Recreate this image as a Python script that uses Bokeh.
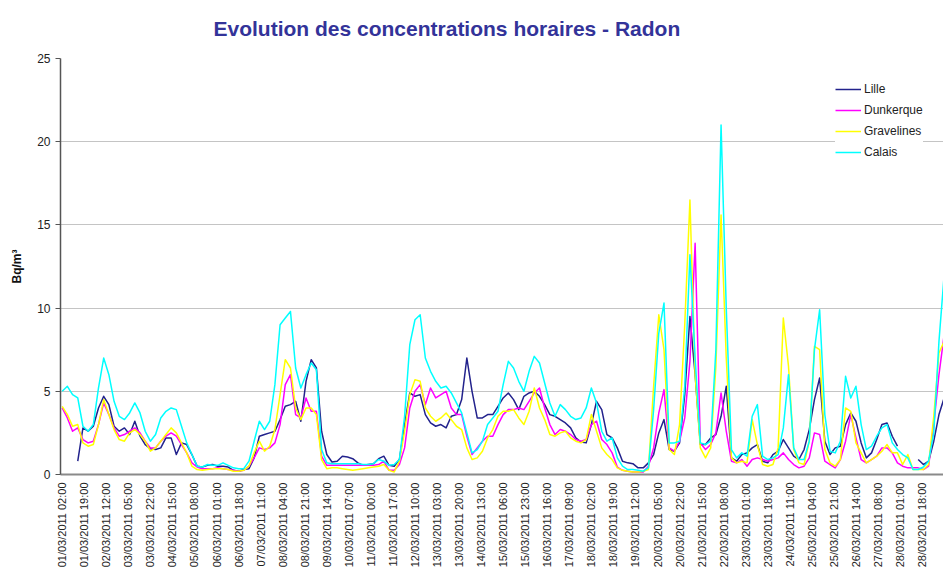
import math
import numpy as np
from bokeh.plotting import figure
from bokeh.models import FixedTicker, Legend, LegendItem, Range1d
from bokeh.embed import file_html
from bokeh.resources import INLINE

nan = float("nan")

# hourly index (hours since 01/03/2011 02:00), sampled every 4 hours
hours = list(range(0, 681, 4))

chart_title = "Evolution des concentrations horaires - Radon"
y_label = "Bq/m³"

tick_step = 17
tick_labels = [
    "01/03/2011 02:00", "01/03/2011 19:00", "02/03/2011 12:00", "03/03/2011 05:00",
    "03/03/2011 22:00", "04/03/2011 15:00", "05/03/2011 08:00", "06/03/2011 01:00",
    "06/03/2011 18:00", "07/03/2011 11:00", "08/03/2011 04:00", "08/03/2011 21:00",
    "09/03/2011 14:00", "10/03/2011 07:00", "11/03/2011 00:00", "11/03/2011 17:00",
    "12/03/2011 10:00", "13/03/2011 03:00", "13/03/2011 20:00", "14/03/2011 13:00",
    "15/03/2011 06:00", "15/03/2011 23:00", "16/03/2011 16:00", "17/03/2011 09:00",
    "18/03/2011 02:00", "18/03/2011 19:00", "19/03/2011 12:00", "20/03/2011 05:00",
    "20/03/2011 22:00", "21/03/2011 15:00", "22/03/2011 08:00", "23/03/2011 01:00",
    "23/03/2011 18:00", "24/03/2011 11:00", "25/03/2011 04:00", "25/03/2011 21:00",
    "26/03/2011 14:00", "27/03/2011 08:00", "28/03/2011 01:00", "28/03/2011 18:00",
    "29/03/2011 11:00",
]

lille = [
    nan, nan, nan, 0.8, 2.8, 2.6, 2.9, 4.0, 4.7, 4.2,
    2.9, 2.6, 2.8, 2.4, 3.2, 2.3, 1.8, 1.55, 1.5, 1.6,
    2.2, 2.2, 1.2, 1.9, 1.8, 1.2, 0.5, 0.45, 0.55, 0.6,
    0.5, 0.5, 0.45, 0.25, 0.2, 0.3, 0.35, 1.0, 2.3, 2.4,
    2.5, 2.6, 3.3, 4.1, 4.2, 4.4, 3.2, 5.6, 6.9, 6.4,
    2.6, 1.2, 0.75, 0.8, 1.1, 1.05, 0.95, 0.7, 0.55, 0.6,
    0.65, 0.95, 1.1, 0.55, 0.5, 0.9, 3.0, 4.9, 4.7, 4.8,
    3.6, 3.1, 2.9, 3.0, 2.8, 3.5, 3.6, 4.5, 7.0, 5.0,
    3.4, 3.4, 3.6, 3.6, 4.1, 4.6, 4.9, 4.5, 3.9, 4.7,
    4.9, 5.0, 4.7, 4.2, 3.6, 3.5, 3.3, 3.1, 2.8, 2.2,
    1.95, 1.9, 3.0, 4.4, 3.9, 2.4, 2.2, 1.6, 0.8, 0.7,
    0.65, 0.4, 0.4, 0.7, 1.2, 2.5, 3.3, 1.5, 1.4, 1.9,
    4.8, 9.5, 6.0, 1.8, 1.8, 2.2, 2.4, 3.5, 5.3, 1.0,
    0.8, 1.2, 1.3, 1.6, 1.8, 0.8, 0.7, 1.2, 1.4, 2.1,
    1.6, 1.1, 0.9, 1.5, 2.7, 4.5, 5.8, 2.0, 1.2, 1.6,
    1.7, 3.0, 3.7, 3.2, 1.9, 1.0, 1.3, 2.1, 3.0, 3.1,
    2.3, 1.7, nan, nan, nan, 0.9, 0.6, 0.8, 2.0, 3.6,
    4.6,
]

dunkerque = [
    4.0, 3.4, 2.6, 2.8, 2.1, 1.9, 2.0, 3.0, 4.3, 3.6,
    2.8, 2.3, 2.4, 2.6, 2.8, 2.5, 2.0, 1.6, 1.6, 2.0,
    2.3, 2.5, 2.3, 1.8, 1.3, 0.7, 0.45, 0.35, 0.35, 0.35,
    0.4, 0.35, 0.3, 0.25, 0.2, 0.25, 0.5, 1.0, 1.6, 1.5,
    1.6, 1.9, 3.0, 5.4, 6.0, 3.6, 3.4, 4.6, 3.8, 3.8,
    1.1, 0.55, 0.55, 0.55, 0.55, 0.55, 0.55, 0.55, 0.55, 0.55,
    0.55, 0.6, 0.8, 0.25, 0.25, 0.6, 1.6, 4.0, 5.0, 5.4,
    4.2, 5.2, 4.6, 4.8, 5.0, 4.0, 3.6, 3.6, 2.3, 1.2,
    1.6, 2.0, 2.3, 2.3, 3.0, 3.6, 3.9, 3.9, 4.0, 3.9,
    4.4, 4.9, 5.2, 4.0, 3.0, 2.4, 2.7, 2.6, 2.4, 2.1,
    2.0, 2.1, 3.0, 3.2, 2.1, 1.8, 1.3, 0.45, 0.25, 0.2,
    0.15, 0.15, 0.15, 0.5, 1.6, 3.7, 5.1, 1.6, 1.4, 2.0,
    3.4, 6.8, 13.9, 1.9, 1.5, 1.8, 2.5, 4.9, 2.6, 0.8,
    0.7, 0.9, 0.5, 0.9, 1.0, 0.9, 0.8, 0.9, 1.0, 1.3,
    0.9, 0.6, 0.4, 0.5, 1.0, 2.5, 2.4, 0.8, 0.6, 0.4,
    0.9, 2.0, 3.6, 2.2, 0.9, 0.7, 0.9, 1.1, 1.6, 1.6,
    1.3, 0.7, 0.5, 0.4, 0.4, 0.4, 0.3, 0.5, 3.0, 6.0,
    8.4,
]

gravelines = [
    4.1, 3.6, 2.9, 3.0, 1.9, 1.7, 1.8, 3.0, 4.5, 3.6,
    2.7, 2.1, 2.0, 2.5, 2.7, 2.4, 2.0, 1.4, 1.6, 2.0,
    2.4, 2.8, 2.5, 1.9, 1.3, 0.5, 0.3, 0.25, 0.3, 0.35,
    0.35, 0.35, 0.3, 0.2, 0.2, 0.25, 0.5, 1.3, 2.0, 1.4,
    1.7, 2.7, 4.8, 6.9, 6.4, 4.0, 3.3, 4.0, 4.0, 3.6,
    0.9, 0.35, 0.4, 0.4, 0.35, 0.3, 0.25, 0.3, 0.35, 0.4,
    0.45, 0.5, 0.6, 0.25, 0.15, 0.8, 2.6, 4.8, 5.7, 5.6,
    4.0, 3.5, 3.2, 3.4, 3.7, 3.3, 2.9, 2.7, 1.6, 0.9,
    1.0, 1.4, 2.2, 2.7, 3.5, 3.8, 3.8, 3.9, 3.4, 3.0,
    3.8, 5.2, 4.0, 3.3, 2.4, 2.3, 2.5, 2.6, 2.2, 2.0,
    1.9, 2.1, 3.6, 2.6, 1.6, 1.2, 0.9, 0.4, 0.25, 0.2,
    0.15, 0.15, 0.2, 0.3, 5.3, 9.6, 7.5, 1.5, 1.2, 3.0,
    9.0, 16.5, 6.0, 1.6, 1.0, 1.6, 6.5, 15.6, 7.0, 1.0,
    0.7, 0.8, 0.7, 3.3, 1.8, 0.6, 0.5, 0.6, 1.6, 9.4,
    6.5, 1.5, 0.7, 0.6, 2.0, 7.7, 7.5, 1.5, 0.7, 0.5,
    0.9, 4.0, 3.8, 1.9, 1.3, 0.7, 0.9, 1.1, 1.4, 1.8,
    1.3, 1.3, 0.6, 1.2, 0.3, 0.3, 0.3, 0.6, 3.5, 7.3,
    8.0,
]

calais = [
    5.0, 5.3, 4.8, 4.6, 2.9, 2.6, 3.0, 5.2, 7.0, 6.0,
    4.4, 3.5, 3.3, 3.7, 4.3, 3.7, 2.6, 2.0, 2.4, 3.4,
    3.8, 4.0, 3.9, 2.9, 1.9, 1.2, 0.5, 0.45, 0.6, 0.55,
    0.55, 0.7, 0.55, 0.4, 0.35, 0.35, 0.8, 2.0, 3.2, 2.7,
    3.2, 5.4, 9.0, 9.4, 9.8, 6.4, 5.2, 6.0, 6.7, 6.3,
    1.5, 0.7, 0.65, 0.65, 0.65, 0.65, 0.65, 0.65, 0.6, 0.6,
    0.65, 0.9, 0.8, 0.55, 0.6, 0.9, 3.5, 7.8, 9.3, 9.6,
    7.0, 6.2, 5.6, 5.2, 5.3, 4.9, 4.3, 3.7, 2.5, 1.3,
    1.5, 2.0, 3.0, 3.4, 3.8, 5.4, 6.8, 6.4, 5.6, 5.0,
    6.2, 7.1, 6.7, 5.5, 4.3, 3.5, 4.2, 3.9, 3.5, 3.3,
    3.4, 4.0, 5.2, 4.3, 2.6, 2.0, 2.2, 1.0, 0.5, 0.3,
    0.3, 0.25, 0.2, 0.4, 3.9, 8.5, 10.3, 1.9, 1.9, 2.0,
    5.3, 13.2, 7.0, 1.9, 1.8, 2.0, 7.5, 21.0, 10.0, 1.5,
    1.0, 1.3, 1.1, 3.5, 4.2, 1.1, 0.9, 1.0, 1.2, 2.8,
    6.0, 1.6, 0.9, 0.9, 2.0, 7.5, 9.9, 3.6, 1.4, 1.3,
    2.0, 5.9, 4.6, 5.3, 3.0, 1.5, 1.7, 2.3, 2.8, 3.0,
    1.9, 1.5, 1.2, 1.0, 0.3, 0.3, 0.45, 0.8, 2.5, 8.0,
    12.0,
]

series_names = ["Lille", "Dunkerque", "Gravelines", "Calais"]
series_values = [lille, dunkerque, gravelines, calais]
series_colors = ["#22228c", "#ff00ff", "#ffff00", "#00ffff"]

y_ticks = [0, 5, 10, 15, 20, 25]

FONT = "Liberation Sans"

p = figure(
    width=943, height=570,
    output_backend="svg", toolbar_location=None,
    x_range=Range1d(-1.3, 679.5), y_range=Range1d(0, 25),
    min_border_left=60, min_border_right=0, min_border_top=58, min_border_bottom=0,
)
p.background_fill_color = "white"
p.border_fill_color = "white"
p.outline_line_color = None

# title
p.title.text = chart_title
p.title.text_font = FONT
p.title.text_font_size = "21px"
p.title.text_font_style = "bold"
p.title.text_color = "#333399"
p.title.align = "left"
p.title.offset = 153
p.title.vertical_align = "top"
p.title.standoff = 33

# grid
p.xgrid.visible = False
p.ygrid.grid_line_color = "#c4c4c4"
p.ygrid.grid_line_width = 1.2
p.ygrid.ticker = FixedTicker(ticks=y_ticks)

# y axis
p.yaxis.ticker = FixedTicker(ticks=y_ticks)
p.yaxis.axis_label = y_label
p.yaxis.axis_label_text_font = FONT
p.yaxis.axis_label_text_font_size = "12px"
p.yaxis.axis_label_text_font_style = "bold"
p.yaxis.axis_label_text_color = "#111111"
p.yaxis.axis_label_standoff = 10
p.yaxis.major_label_text_font = FONT
p.yaxis.major_label_text_font_size = "12px"
p.yaxis.major_label_text_color = "#222222"
p.yaxis.major_label_standoff = 5
p.yaxis.axis_line_color = "#555555"
p.yaxis.axis_line_width = 1.5
p.yaxis.major_tick_line_color = "#555555"
p.yaxis.major_tick_out = 5
p.yaxis.major_tick_in = 0
p.yaxis.minor_tick_line_color = None

# x axis
x_ticks = [i * tick_step for i in range(len(tick_labels))]
p.xaxis.ticker = FixedTicker(ticks=x_ticks)
p.xaxis.major_label_overrides = {t: lab for t, lab in zip(x_ticks, tick_labels)}
p.xaxis.major_label_orientation = math.pi / 2
p.xaxis.major_label_text_font = FONT
p.xaxis.major_label_text_font_size = "11px"
p.xaxis.major_label_text_color = "#222222"
p.xaxis.major_label_standoff = 8
p.xaxis.axis_line_color = "#8a8a8a"
p.xaxis.axis_line_width = 2
p.xaxis.major_tick_line_color = None
p.xaxis.major_tick_out = 0
p.xaxis.major_tick_in = 0
p.xaxis.minor_tick_line_color = None

items = []
for name, vals, col in zip(series_names, series_values, series_colors):
    r = p.line(hours, np.array(vals, dtype=float), line_color=col, line_width=1.5,
               line_join="round")
    items.append(LegendItem(label=name, renderers=[r]))

legend = Legend(items=items, location=(775, 312))
legend.label_text_font = FONT
legend.label_text_font_size = "12px"
legend.label_text_color = "#222222"
legend.glyph_width = 26
legend.glyph_height = 20
legend.label_height = 20
legend.label_standoff = 3
legend.spacing = 1
legend.padding = 8
legend.margin = 0
legend.border_line_color = None
legend.background_fill_color = "white"
legend.background_fill_alpha = 1.0
p.add_layout(legend)

open("out.html", "w").write(file_html(p, INLINE))
